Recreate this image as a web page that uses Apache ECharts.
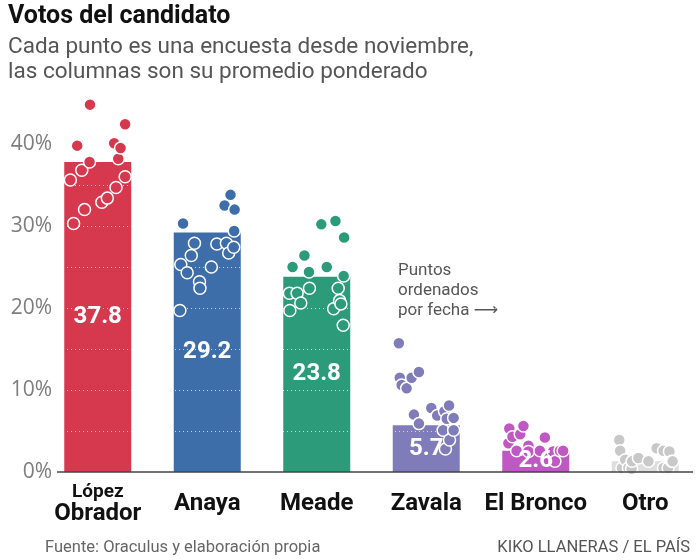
<!DOCTYPE html>
<html>
<head>
<meta charset="utf-8">
<script src="https://cdn.jsdelivr.net/npm/echarts@6/dist/echarts.min.js"></script>
<style>
    html, body { margin: 0; padding: 0; background: #fff; }
    #chart { width: 700px; height: 560px; }
</style>
</head>
<body>
<div id="chart"></div>
<script>
// candidatos y promedio ponderado (%)
var categories = ['López\nObrador', 'Anaya', 'Meade', 'Zavala', 'El Bronco', 'Otro'];
var promedio = [37.8, 29.2, 23.8, 5.7, 2.6, 1.3];
var colores = ['#d6384e', '#3e6eaa', '#2c9b7a', '#807cba', '#c058c4', '#c8c8c8'];
var colorOtroBarra = '#dedede';

// encuestas: [días desde el 1 de noviembre, % de voto]
var diasTotal = 120;
var encuestasLopez = [[0, 35.6], [7, 30.3], [15, 39.8], [25, 36.8], [31, 32.0], [42, 37.8], [43, 44.8],
    [69, 32.9], [81, 33.4], [96, 40.1], [100, 34.7], [105, 38.2], [110, 39.5], [120, 42.4], [120, 36.0]];
var encuestasAnaya = [[0, 19.7], [2, 25.3], [7, 30.3], [16, 24.3], [25, 26.4], [32, 27.9], [43, 23.2],
    [44, 22.4], [69, 25.0], [81, 27.8], [98, 32.5], [102, 27.9], [107, 26.7], [111, 33.8], [118, 27.4],
    [119, 29.4], [120, 32.0]];
var encuestasMeade = [[0, 21.8], [1, 19.7], [7, 25.0], [17, 21.8], [25, 20.6], [33, 26.4], [43, 24.4],
    [44, 22.4], [70, 30.2], [82, 25.0], [97, 19.9], [101, 30.6], [107, 22.4], [110, 20.9], [113, 20.5],
    [118, 17.9], [119, 23.9], [120, 28.6]];
var encuestasZavala = [[0, 15.7], [2, 11.5], [6, 10.6], [17, 10.2], [28, 11.5], [33, 7.0], [44, 12.2],
    [44, 5.9], [71, 7.8], [84, 6.9], [97, 5.1], [100, 7.4], [102, 2.8], [105, 6.5], [110, 8.1],
    [111, 3.9], [120, 6.6], [120, 5.1]];
var encuestasBronco = [[0, 3.5], [2, 5.3], [9, 4.3], [18, 2.6], [26, 4.6], [33, 5.6], [44, 3.2],
    [44, 2.5], [69, 2.6], [80, 4.2], [98, 2.5], [102, 1.3], [113, 2.6], [120, 2.6]];
var encuestasOtro = [[3, 3.9], [5, 2.6], [9, 0.5], [16, 1.5], [23, 0.5], [30, 0.4], [31, 1.3],
    [45, 1.7], [67, 1.3], [85, 2.9], [100, 2.6], [100, 0.5], [110, 0.5], [113, 2.5], [118, 1.3], [120, 1.3]];
var encuestas = [encuestasLopez, encuestasAnaya, encuestasMeade, encuestasZavala, encuestasBronco, encuestasOtro];

var myChart = echarts.init(document.getElementById('chart'));

// ancho que ocupan los puntos dentro de cada columna (fracción de la categoría)
var spread = 0.5;
function toPoints(lista, i) {
    return lista.map(function (p) {
        return [i + 0.5 + (p[0] / diasTotal - 0.5) * spread, p[1]];
    });
}

var series = [{
    // columnas
    type: 'bar',
    z: 2,
    barWidth: 67,
    data: promedio.map(function (v, i) {
        return { value: v, itemStyle: { color: i === 5 ? colorOtroBarra : colores[i] } };
    }),
    silent: true
}, {
    // etiquetas de las columnas, por encima de los puntos
    type: 'bar',
    z: 6,
    barWidth: 67,
    barGap: '-100%',
    itemStyle: { color: 'rgba(0,0,0,0)' },
    data: promedio.map(function (v, i) {
        return { value: v, label: { show: i !== 5 } };
    }),
    label: {
        show: true,
        position: 'inside',
        color: '#fff',
        fontFamily: 'Roboto',
        fontWeight: 'bold',
        fontSize: 24,
        formatter: function (p) { return p.value.toFixed(1); }
    },
    silent: true
}];

encuestas.forEach(function (lista, i) {
    series.push({
        type: 'scatter',
        xAxisIndex: 1,
        z: 4,
        symbolSize: 12,
        data: toPoints(lista, i),
        itemStyle: {
            color: colores[i],
            borderColor: '#fff',
            borderWidth: 1.5,
            opacity: 1
        },
        silent: true
    });
});

myChart.setOption({
    animation: false,
    backgroundColor: '#fff',
    grid: { left: 43, right: -9, top: 103, bottom: 88 },
    xAxis: [{
        type: 'category',
        data: categories,
        axisLine: { show: false },
        axisTick: { show: false },
        axisLabel: {
            interval: 0,
            margin: 32,
            verticalAlign: 'middle',
            color: '#111',
            fontFamily: 'Roboto',
            fontWeight: 'bold',
            fontSize: 24,
            lineHeight: 24,
            formatter: function (v) {
                if (v.indexOf('\n') > -1) {
                    var partes = v.split('\n');
                    return '{s|' + partes[0] + '}\n{b|' + partes[1] + '}';
                }
                return v;
            },
            rich: {
                s: { fontFamily: 'Roboto', fontWeight: 'bold', fontSize: 19, lineHeight: 19, color: '#111' },
                b: { fontFamily: 'Roboto', fontWeight: 'bold', fontSize: 24, lineHeight: 23, color: '#111' }
            }
        }
    }, {
        type: 'value',
        min: 0,
        max: 6,
        show: false
    }],
    yAxis: {
        type: 'value',
        min: 0,
        max: 45,
        interval: 5,
        z: 3,
        axisLine: { show: false },
        axisTick: { show: false },
        axisLabel: {
            margin: -9,
            color: '#7d7d7d',
            fontFamily: 'Open Sans',
            fontSize: 21,
            formatter: function (v) { return v % 10 === 0 && v < 45 ? v + '%' : ''; }
        },
        splitLine: {
            lineStyle: { color: 'rgba(255,255,255,0.7)', type: [1, 3], width: 1 }
        }
    },
    graphic: [
        { type: 'line', z: 10, shape: { x1: 57, y1: 472, x2: 693, y2: 472 }, style: { stroke: '#444', lineWidth: 1.5 } },
        { type: 'text', left: 8, top: 4, style: { text: 'Votos del candidato', fontFamily: 'Roboto', fontWeight: 'bold', fontSize: 25, fill: '#111' } },
        { type: 'text', left: 8, top: 35, style: { text: 'Cada punto es una encuesta desde noviembre,\nlas columnas son su promedio ponderado', fontFamily: 'Roboto', fontSize: 22.5, lineHeight: 25, fill: '#555' } },
        {
            type: 'text', left: 398, top: 261,
            style: {
                text: 'Puntos\nordenados\npor fecha {a|\u27F6}',
                fontFamily: 'Roboto', fontSize: 17, lineHeight: 20, fill: '#555',
                rich: { a: { fontFamily: 'DejaVu Sans', fontSize: 17, lineHeight: 20, fill: '#555' } }
            }
        },
        { type: 'text', left: 45, top: 539, style: { text: 'Fuente: Oraculus y elaboración propia', fontFamily: 'Roboto', fontSize: 16.5, fill: '#666' } },
        { type: 'text', right: 10, top: 539, style: { text: 'KIKO LLANERAS / EL PAÍS', fontFamily: 'Roboto', fontSize: 16.5, fill: '#555' } }
    ],
    series: series
});
</script>
</body>
</html>
